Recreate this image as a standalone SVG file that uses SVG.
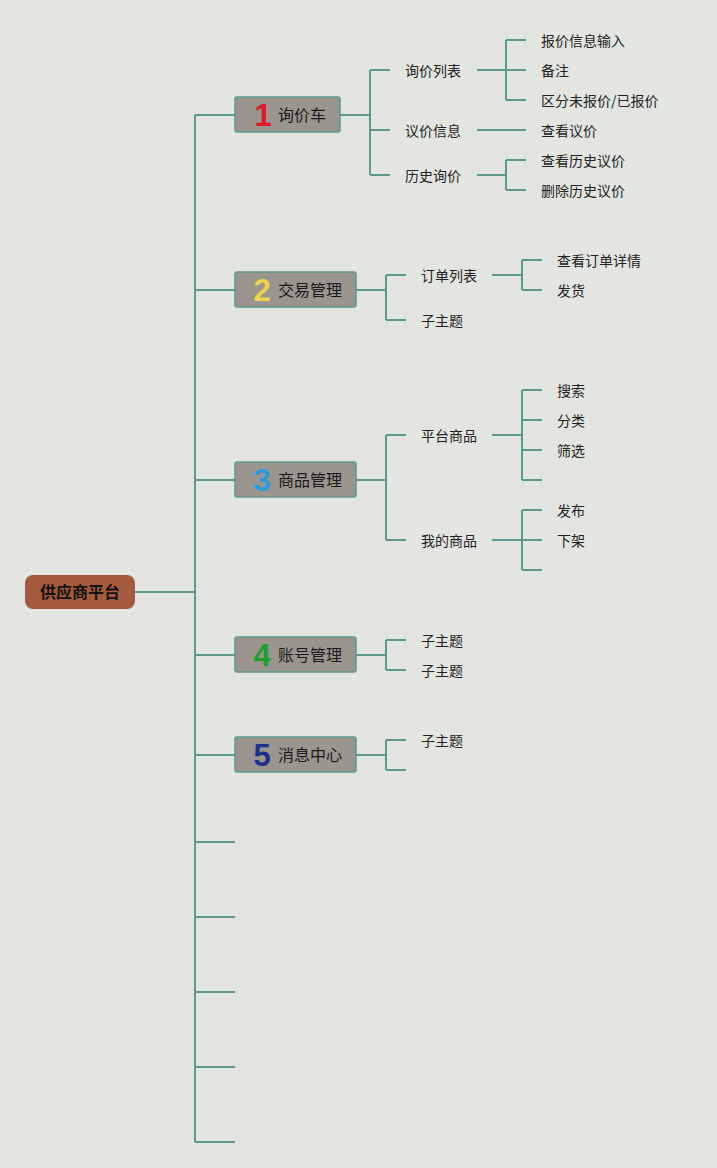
<svg xmlns="http://www.w3.org/2000/svg" width="717" height="1168" viewBox="0 0 717 1168">
<style>
.ln{fill:none;stroke:#5e998e;stroke-width:2}
.box{fill:#9a958d;stroke:#5e998e;stroke-width:1.5}
.t{font-family:"Noto Sans CJK SC","Noto Sans",sans-serif;font-size:14px;fill:#222}
.t1{font-family:"Noto Sans CJK SC","Noto Sans",sans-serif;font-size:16px;fill:#1a1a1a}
.num{font-family:"Liberation Sans","DejaVu Sans",sans-serif;font-size:31px;font-weight:bold;text-anchor:middle}
.root{font-family:"Noto Sans CJK SC","Noto Sans",sans-serif;font-size:16px;font-weight:bold;fill:#111;text-anchor:middle}
</style>
<rect width="717" height="1168" fill="#e3e5e1"/>
<g id="connectors">
<path class="ln" d="M135 592H195M195 115V1142M195 115H235M195 290H235M195 480H235M195 655H235M195 755H235M195 842H235M195 917H235M195 992H235M195 1067H235M195 1142H235"/>
<path class="ln" d="M340 115H370M370 70V175M370 70H390M370 130H390M370 175H390"/>
<path class="ln" d="M477 70H506M506 40V100M506 40H526M506 70H526M506 100H526M477 130H526M477 175H506M506 160V190M506 160H526M506 190H526"/>
<path class="ln" d="M356 290H386M386 275V320M386 275H406M386 320H406M492 275H522M522 260V290M522 260H542M522 290H542"/>
<path class="ln" d="M356 480H386M386 435V540M386 435H406M386 540H406M492 435H522M522 390V480M522 390H542M522 420H542M522 450H542M522 480H542M492 540H522M522 510V570M522 510H542M522 540H542M522 570H542"/>
<path class="ln" d="M356 655H386M386 640V670M386 640H406M386 670H406"/>
<path class="ln" d="M356 755H386M386 740V770M386 740H406M386 770H406"/>
</g>
<g id="root">
<rect x="25" y="575" width="110" height="34" rx="8" fill="#a65a3d"/>
<text class="root" x="80" y="598">供应商平台</text>
</g>
<g id="n1">
<rect class="box" x="235" y="97" width="105" height="35" rx="2"/>
<text class="num" x="263" y="126" fill="#e0172e">1</text>
<text class="t1" x="278" y="121">询价车</text>
</g>
<g id="n2">
<rect class="box" x="235" y="272" width="121" height="35" rx="2"/>
<text class="num" x="262" y="301" fill="#f0d44c">2</text>
<text class="t1" x="278" y="296">交易管理</text>
</g>
<g id="n3">
<rect class="box" x="235" y="462" width="121" height="35" rx="2"/>
<text class="num" x="262" y="491" fill="#2b9be0">3</text>
<text class="t1" x="278" y="486">商品管理</text>
</g>
<g id="n4">
<rect class="box" x="235" y="637" width="121" height="35" rx="2"/>
<text class="num" x="262" y="666" fill="#1f9f2f">4</text>
<text class="t1" x="278" y="661">账号管理</text>
</g>
<g id="n5">
<rect class="box" x="235" y="737" width="121" height="35" rx="2"/>
<text class="num" x="262" y="766" fill="#1d2e8e">5</text>
<text class="t1" x="278" y="761">消息中心</text>
</g>
<g id="sub1">
<text class="t" x="405" y="76">询价列表</text>
<text class="t" x="405" y="136">议价信息</text>
<text class="t" x="405" y="181">历史询价</text>
<text class="t" x="541" y="46">报价信息输入</text>
<text class="t" x="541" y="76">备注</text>
<text class="t" x="541" y="106">区分未报价/已报价</text>
<text class="t" x="541" y="136">查看议价</text>
<text class="t" x="541" y="166">查看历史议价</text>
<text class="t" x="541" y="196">删除历史议价</text>
</g>
<g id="sub2">
<text class="t" x="421" y="281">订单列表</text>
<text class="t" x="421" y="326">子主题</text>
<text class="t" x="557" y="266">查看订单详情</text>
<text class="t" x="557" y="296">发货</text>
</g>
<g id="sub3">
<text class="t" x="421" y="441">平台商品</text>
<text class="t" x="421" y="546">我的商品</text>
<text class="t" x="557" y="396">搜索</text>
<text class="t" x="557" y="426">分类</text>
<text class="t" x="557" y="456">筛选</text>
<text class="t" x="557" y="516">发布</text>
<text class="t" x="557" y="546">下架</text>
</g>
<g id="sub4">
<text class="t" x="421" y="646">子主题</text>
<text class="t" x="421" y="676">子主题</text>
</g>
<g id="sub5">
<text class="t" x="421" y="746">子主题</text>
</g>
</svg>
